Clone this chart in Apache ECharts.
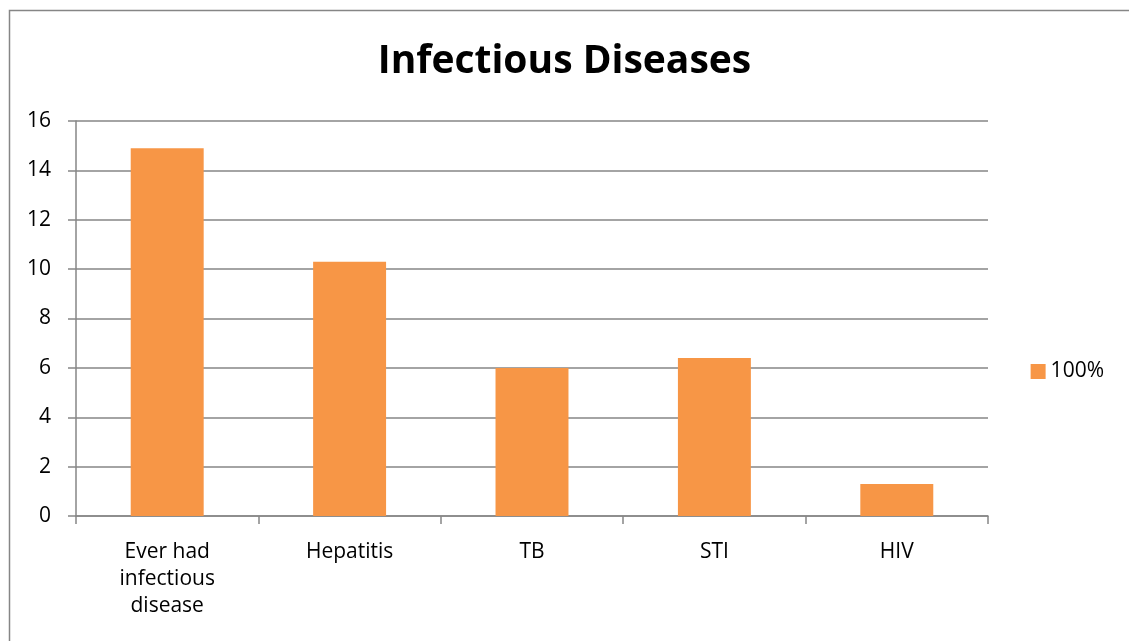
<!DOCTYPE html>
<html>
<head>
<meta charset="utf-8">
<script src="https://cdn.jsdelivr.net/npm/echarts@6/dist/echarts.min.js"></script>
<style>html,body{margin:0;padding:0;background:#fff}#c{width:1129px;height:641px}</style>
</head>
<body>
<div id="c"></div>
<script>
const categories = ['Ever had\ninfectious\ndisease', 'Hepatitis', 'TB', 'STI', 'HIV'];
const seriesName = '100%';
const values = [14.9, 10.3, 6.0, 6.4, 1.3];
const titleText = 'Infectious Diseases';

const chart = echarts.init(document.getElementById('c'));
const font = '"Open Sans", "Liberation Sans", sans-serif';
chart.setOption({
  animation: false,
  backgroundColor: '#fff',
  graphic: [{
    type: 'rect', left: 7, top: 8, z: -1,
    shape: { width: 1140, height: 660 },
    style: { fill: 'none', stroke: '#868686', lineWidth: 1.5 }
  }],
  title: {
    text: titleText, left: 'center', top: 37,
    textStyle: { fontFamily: font, fontWeight: 'bold', fontSize: 39, color: '#000' }
  },
  legend: {
    right: 20, top: 356, orient: 'vertical',
    itemWidth: 15, itemHeight: 15, itemGap: 5,
    icon: 'rect',
    textStyle: { fontFamily: font, fontSize: 21, color: '#000', padding: [0, 0, 0, 0] },
    data: [seriesName]
  },
  grid: { left: 76, right: 141, top: 121, bottom: 125 },
  xAxis: {
    type: 'category', data: categories,
    axisLine: { lineStyle: { color: '#868686', width: 1.5 } },
    axisTick: { show: true, length: 8, lineStyle: { color: '#868686', width: 1.5 } },
    axisLabel: { fontFamily: font, fontSize: 21, color: '#000', margin: 23, lineHeight: 27, interval: 0 }
  },
  yAxis: {
    type: 'value', min: 0, max: 16, interval: 2,
    axisLine: { show: true, lineStyle: { color: '#868686', width: 1.5 } },
    axisTick: { show: true, length: 8, lineStyle: { color: '#868686', width: 1.5 } },
    splitLine: { lineStyle: { color: '#868686', width: 1.5 } },
    axisLabel: { fontFamily: font, fontSize: 21, color: '#000', margin: 25 }
  },
  series: [{
    name: seriesName, type: 'bar', data: values,
    barCategoryGap: '60%',
    itemStyle: { color: '#F79646' }
  }]
});
</script>
</body>
</html>
